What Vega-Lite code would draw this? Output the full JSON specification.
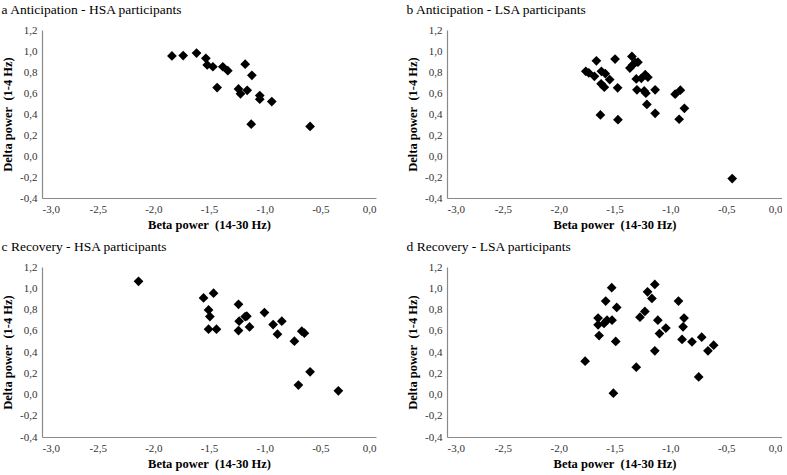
{
  "$schema": "https://vega.github.io/schema/vega-lite/v6.json",
  "background": "white",
  "padding": {"left": 1, "top": 2, "right": 0, "bottom": 2},
  "datasets": {
    "a": [
      {"beta": -1.833, "delta": 0.953}, {"beta": -1.732, "delta": 0.956}, {"beta": -1.612, "delta": 0.98},
      {"beta": -1.528, "delta": 0.93}, {"beta": -1.516, "delta": 0.867}, {"beta": -1.465, "delta": 0.85},
      {"beta": -1.376, "delta": 0.85}, {"beta": -1.331, "delta": 0.813}, {"beta": -1.175, "delta": 0.874},
      {"beta": -1.115, "delta": 0.769}, {"beta": -1.427, "delta": 0.652}, {"beta": -1.235, "delta": 0.639},
      {"beta": -1.217, "delta": 0.592}, {"beta": -1.157, "delta": 0.626}, {"beta": -1.044, "delta": 0.576},
      {"beta": -1.044, "delta": 0.541}, {"beta": -0.936, "delta": 0.519}, {"beta": -1.121, "delta": 0.303},
      {"beta": -0.592, "delta": 0.281}
    ],
    "b": [
      {"beta": -1.757, "delta": 0.806}, {"beta": -1.73, "delta": 0.791}, {"beta": -1.68, "delta": 0.759},
      {"beta": -1.662, "delta": 0.907}, {"beta": -1.617, "delta": 0.806}, {"beta": -1.582, "delta": 0.784},
      {"beta": -1.543, "delta": 0.728}, {"beta": -1.62, "delta": 0.687}, {"beta": -1.591, "delta": 0.655},
      {"beta": -1.495, "delta": 0.923}, {"beta": -1.472, "delta": 0.649}, {"beta": -1.626, "delta": 0.391},
      {"beta": -1.469, "delta": 0.346}, {"beta": -1.344, "delta": 0.948}, {"beta": -1.362, "delta": 0.838},
      {"beta": -1.338, "delta": 0.866}, {"beta": -1.314, "delta": 0.891}, {"beta": -1.29, "delta": 0.894},
      {"beta": -1.305, "delta": 0.734}, {"beta": -1.26, "delta": 0.74}, {"beta": -1.225, "delta": 0.775},
      {"beta": -1.201, "delta": 0.75}, {"beta": -1.299, "delta": 0.63}, {"beta": -1.234, "delta": 0.62},
      {"beta": -1.219, "delta": 0.598}, {"beta": -1.21, "delta": 0.491}, {"beta": -1.136, "delta": 0.63},
      {"beta": -1.136, "delta": 0.406}, {"beta": -0.957, "delta": 0.589}, {"beta": -0.91, "delta": 0.627},
      {"beta": -0.874, "delta": 0.454}, {"beta": -0.921, "delta": 0.35}, {"beta": -0.446, "delta": -0.215}
    ],
    "c": [
      {"beta": -2.133, "delta": 1.065}, {"beta": -1.549, "delta": 0.909}, {"beta": -1.459, "delta": 0.953},
      {"beta": -1.504, "delta": 0.796}, {"beta": -1.492, "delta": 0.733}, {"beta": -1.504, "delta": 0.615},
      {"beta": -1.433, "delta": 0.615}, {"beta": -1.235, "delta": 0.849}, {"beta": -1.229, "delta": 0.69},
      {"beta": -1.235, "delta": 0.602}, {"beta": -1.175, "delta": 0.733}, {"beta": -1.16, "delta": 0.737},
      {"beta": -1.136, "delta": 0.636}, {"beta": -1.002, "delta": 0.771}, {"beta": -0.924, "delta": 0.658},
      {"beta": -0.885, "delta": 0.568}, {"beta": -0.846, "delta": 0.69}, {"beta": -0.733, "delta": 0.502},
      {"beta": -0.667, "delta": 0.596}, {"beta": -0.643, "delta": 0.577}, {"beta": -0.592, "delta": 0.214},
      {"beta": -0.697, "delta": 0.089}, {"beta": -0.338, "delta": 0.035}
    ],
    "d": [
      {"beta": -1.763, "delta": 0.313}, {"beta": -1.638, "delta": 0.555}, {"beta": -1.647, "delta": 0.719},
      {"beta": -1.647, "delta": 0.656}, {"beta": -1.594, "delta": 0.669}, {"beta": -1.567, "delta": 0.7},
      {"beta": -1.579, "delta": 0.879}, {"beta": -1.525, "delta": 1.005}, {"beta": -1.522, "delta": 0.7},
      {"beta": -1.48, "delta": 0.819}, {"beta": -1.489, "delta": 0.499}, {"beta": -1.305, "delta": 0.257},
      {"beta": -1.51, "delta": 0.012}, {"beta": -1.272, "delta": 0.728}, {"beta": -1.228, "delta": 0.782},
      {"beta": -1.204, "delta": 0.967}, {"beta": -1.165, "delta": 0.904}, {"beta": -1.139, "delta": 1.036},
      {"beta": -1.112, "delta": 0.7}, {"beta": -1.097, "delta": 0.574}, {"beta": -1.139, "delta": 0.411},
      {"beta": -1.04, "delta": 0.625}, {"beta": -0.927, "delta": 0.879}, {"beta": -0.877, "delta": 0.719},
      {"beta": -0.886, "delta": 0.637}, {"beta": -0.895, "delta": 0.518}, {"beta": -0.806, "delta": 0.496},
      {"beta": -0.719, "delta": 0.54}, {"beta": -0.746, "delta": 0.165}, {"beta": -0.663, "delta": 0.411},
      {"beta": -0.612, "delta": 0.464}
    ]
  },
  "spacing": 8,
  "vconcat": [
    {
      "spacing": 30,
      "hconcat": [
        {
          "title": "a  Anticipation - HSA participants",
          "width": 334, "height": 168,
          "data": {"name": "a"},
          "mark": {"type": "point", "shape": "diamond", "filled": true, "color": "#000", "opacity": 1, "size": 95},
          "encoding": {
            "x": {"field": "beta", "type": "quantitative", "scale": {"domain": [-3, 0], "nice": false, "zero": false}, "axis": {"values": [-3, -2.5, -2, -1.5, -1, -0.5, 0], "title": "Beta power\u00a0 (14-30 Hz)"}},
            "y": {"field": "delta", "type": "quantitative", "scale": {"domain": [-0.4, 1.2], "nice": false, "zero": false}, "axis": {"values": [-0.4, -0.2, 0, 0.2, 0.4, 0.6, 0.8, 1, 1.2], "title": "Delta power\u00a0 (1-4 Hz)"}}
          }
        },
        {
          "title": "b  Anticipation - LSA participants",
          "width": 335, "height": 168,
          "data": {"name": "b"},
          "mark": {"type": "point", "shape": "diamond", "filled": true, "color": "#000", "opacity": 1, "size": 95},
          "encoding": {
            "x": {"field": "beta", "type": "quantitative", "scale": {"domain": [-3, 0], "nice": false, "zero": false}, "axis": {"values": [-3, -2.5, -2, -1.5, -1, -0.5, 0], "title": "Beta power\u00a0 (14-30 Hz)"}},
            "y": {"field": "delta", "type": "quantitative", "scale": {"domain": [-0.4, 1.2], "nice": false, "zero": false}, "axis": {"values": [-0.4, -0.2, 0, 0.2, 0.4, 0.6, 0.8, 1, 1.2], "title": "Delta power\u00a0 (1-4 Hz)"}}
          }
        }
      ]
    },
    {
      "spacing": 30,
      "hconcat": [
        {
          "title": "c  Recovery - HSA participants",
          "width": 334, "height": 170,
          "data": {"name": "c"},
          "mark": {"type": "point", "shape": "diamond", "filled": true, "color": "#000", "opacity": 1, "size": 95},
          "encoding": {
            "x": {"field": "beta", "type": "quantitative", "scale": {"domain": [-3, 0], "nice": false, "zero": false}, "axis": {"values": [-3, -2.5, -2, -1.5, -1, -0.5, 0], "title": "Beta power\u00a0 (14-30 Hz)"}},
            "y": {"field": "delta", "type": "quantitative", "scale": {"domain": [-0.4, 1.2], "nice": false, "zero": false}, "axis": {"values": [-0.4, -0.2, 0, 0.2, 0.4, 0.6, 0.8, 1, 1.2], "title": "Delta power\u00a0 (1-4 Hz)"}}
          }
        },
        {
          "title": "d  Recovery - LSA participants",
          "width": 335, "height": 170,
          "data": {"name": "d"},
          "mark": {"type": "point", "shape": "diamond", "filled": true, "color": "#000", "opacity": 1, "size": 95},
          "encoding": {
            "x": {"field": "beta", "type": "quantitative", "scale": {"domain": [-3, 0], "nice": false, "zero": false}, "axis": {"values": [-3, -2.5, -2, -1.5, -1, -0.5, 0], "title": "Beta power\u00a0 (14-30 Hz)"}},
            "y": {"field": "delta", "type": "quantitative", "scale": {"domain": [-0.4, 1.2], "nice": false, "zero": false}, "axis": {"values": [-0.4, -0.2, 0, 0.2, 0.4, 0.6, 0.8, 1, 1.2], "title": "Delta power\u00a0 (1-4 Hz)"}}
          }
        }
      ]
    }
  ],
  "config": {
    "view": {"stroke": null},
    "font": "Liberation Serif, Times New Roman, serif",
    "axis": {
      "grid": false, "ticks": false, "domainColor": "#8a8a8a", "domainWidth": 1.2,
      "labelFont": "Liberation Serif, Times New Roman, serif", "labelFontSize": 11, "labelColor": "#333", "labelPadding": 5,
      "titleFont": "Liberation Serif, Times New Roman, serif", "titleFontWeight": "bold", "titleFontSize": 12.5, "titleColor": "#000",
      "labelExpr": "replace(replace(format(datum.value, '.1f'), '.', ','), '\u2212', '-')"
    },
    "axisY": {"titlePadding": 5},
    "axisX": {"titlePadding": 4},
    "title": {"anchor": "start", "frame": "bounds", "font": "Liberation Serif, Times New Roman, serif", "fontSize": 13.5, "fontWeight": "normal", "color": "#000", "offset": 8}
  }
}
